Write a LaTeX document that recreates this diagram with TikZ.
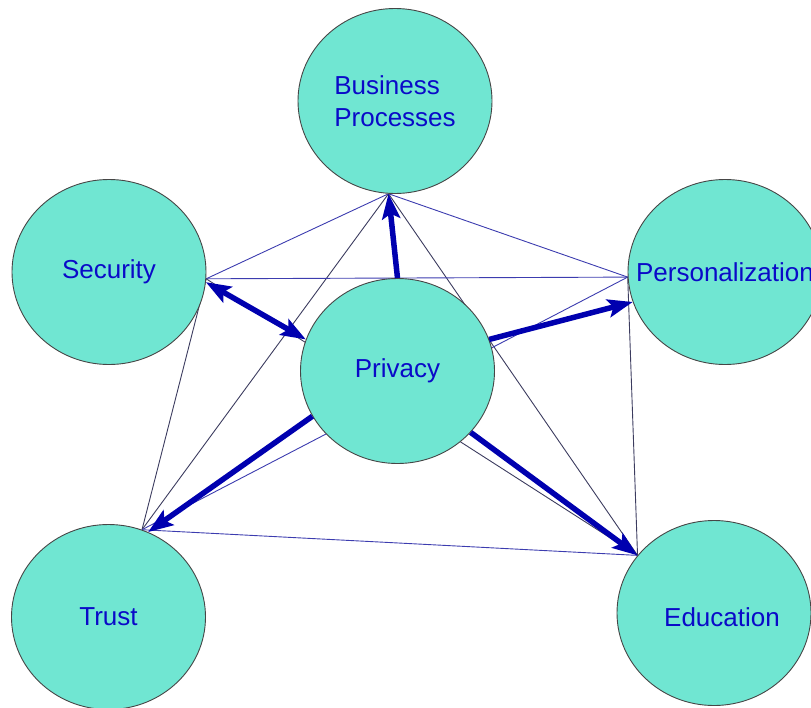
\documentclass[tikz,border=0pt]{standalone}
\usepackage{fontspec}
\setmainfont{Liberation Sans}
\usetikzlibrary{shapes.geometric,arrows.meta}
\pgfdeclarelayer{background}
\pgfsetlayers{background,main}
\definecolor{bubble}{RGB}{112,230,210}
\definecolor{rim}{RGB}{70,70,70}
\definecolor{inkblue}{RGB}{10,10,200}
\definecolor{flow}{RGB}{0,0,175}
\definecolor{webblue}{RGB}{60,60,175}
\definecolor{webgray}{RGB}{60,60,95}
\tikzset{
  topic/.style={ellipse, draw=rim, line width=0.9pt, fill=bubble,
    minimum width=194pt, minimum height=185pt, inner sep=0pt},
  caption/.style={text=inkblue, font=\fontsize{26}{32}\selectfont, inner sep=0pt},
  web/.style={line width=0.9pt, draw=webblue},
  webdark/.style={line width=0.9pt, draw=webgray},
  headtip/.tip={Stealth[length=25pt,width=18pt,inset=5pt]},
  flowarrow/.style={line width=5.5pt, draw=flow, -headtip},
  flowboth/.style={line width=5.5pt, draw=flow, headtip-headtip}
}
\begin{document}
\begin{tikzpicture}[x=1pt,y=-1pt]
\useasboundingbox (0,0) rectangle (811,707);
\clip (0,0) rectangle (811,707);

% topics
\node[topic, label={[caption, align=left]center:Business\\Processes}] (B) at (395,101) {};
\node[topic, label={[caption]center:Security}] (S) at (109,272) {};
\node[topic, label={[caption]center:Personalization}] (P) at (725,272) {};
\node[topic, label={[caption]center:Privacy}] (V) at (397.5,371) {};
\node[topic, label={[caption]center:Trust}] (T) at (108.5,617) {};
\node[topic, label={[caption, xshift=8pt, yshift=-4pt]center:Education}] (E) at (714,613) {};

% thin web between the outer topics, behind the bubbles
\begin{pgfonlayer}{background}
  \draw[web] (B.-94) -- (S.-4);
  \draw[web] (B.-94) -- (P.183);
  \draw[webdark] (B.-94) -- (T.69);
  \draw[webdark] (B.-94) -- (E.143);
  \draw[web] (S.-4) -- (P.183);
  \draw[webdark] (S.-4) -- (T.69);
  \draw[webdark] (S.-4) -- (E.143);
  \draw[web] (P.183) -- (T.69);
  \draw[webdark] (P.183) -- (E.143);
  \draw[web] (T.69) -- (E.143);
\end{pgfonlayer}

% thick flows out of Privacy
\draw[flowarrow] (V.90) -- (B.-94);
\draw[flowboth] (S.-6) -- (V.161);
\draw[flowarrow] (V.19) -- (P.198);
\draw[flowarrow] (V.208) -- (T.65);
\draw[flowarrow] (V.-40) -- (E.143);
\end{tikzpicture}
\end{document}
